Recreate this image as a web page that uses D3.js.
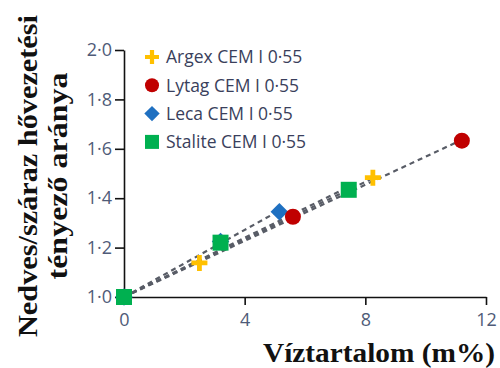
<!DOCTYPE html>
<html>
<head>
<meta charset="utf-8">
<script src="https://cdn.jsdelivr.net/npm/d3@7"></script>
<style>
  body { margin: 0; background: #fff; }
  svg { display: block; }
  .tick text { font-family: "Open Sans", sans-serif; font-size: 18px; fill: #4f5b78; }
  .axis-title { font-family: "Liberation Serif", "Times New Roman", serif; font-weight: bold; fill: #111; }
  .legend text { font-family: "Open Sans", sans-serif; font-size: 17.5px; fill: #3a3f5c; }
</style>
</head>
<body>
<svg id="chart"></svg>
<script>
// series and values
const seriesNames = ["Argex CEM I 0·55", "Lytag CEM I 0·55", "Leca CEM I 0·55", "Stalite CEM I 0·55"];
const seriesColors = ["#ffc000", "#c00000", "#1f70c1", "#00b050"];
const seriesShapes = ["plus", "circle", "diamond", "square"];

const argexX = [0, 2.5, 8.25];
const argexY = [1.0, 1.138, 1.483];
const lytagX = [0, 5.6, 11.2];
const lytagY = [1.0, 1.325, 1.633];
const lecaX = [0, 3.2, 5.15];
const lecaY = [1.0, 1.225, 1.345];
const staliteX = [0, 3.2, 7.45];
const staliteY = [1.0, 1.22, 1.434];

const xTicks = [0, 4, 8, 12];
const yTicks = [1.0, 1.2, 1.4, 1.6, 1.8, 2.0];

const xTitle = "Víztartalom (m%)";
const yTitleLines = ["Nedves/száraz hővezetési", "tényező aránya"];

const width = 500, height = 368;
const plotLeft = 124, plotRight = 486, plotTop = 50, plotBottom = 297;

const svg = d3.select("#chart").attr("width", width).attr("height", height);

const x = d3.scaleLinear().domain([0, 12]).range([plotLeft, plotRight]);
const y = d3.scaleLinear().domain([1, 2]).range([plotBottom, plotTop]);

const fmt = v => d3.format(".1f")(v).replace(".", "·");

svg.append("g")
  .attr("transform", `translate(${plotLeft},0)`)
  .call(d3.axisLeft(y).tickValues(yTicks).tickFormat(fmt).tickSize(9).tickSizeOuter(0).tickPadding(3))
  .call(g => g.selectAll("path,line").attr("stroke", "#111").attr("stroke-width", 1.6));

svg.append("g")
  .attr("transform", `translate(0,${plotBottom})`)
  .call(d3.axisBottom(x).tickValues(xTicks).tickFormat(d3.format("d")).tickSize(8).tickSizeOuter(0).tickPadding(8))
  .call(g => g.selectAll("path,line").attr("stroke", "#111").attr("stroke-width", 1.6));

// titles
svg.append("text").attr("class", "axis-title")
  .attr("x", 379).attr("y", 362)
  .attr("text-anchor", "middle")
  .attr("font-size", 27)
  .attr("textLength", 232)
  .attr("lengthAdjust", "spacingAndGlyphs")
  .text(xTitle);

const yTitleLengths = [322, 207];
const yt = svg.append("text").attr("class", "axis-title")
  .attr("transform", "translate(0,176) rotate(-90)")
  .attr("text-anchor", "middle")
  .attr("font-size", 27);
yt.selectAll("tspan").data(yTitleLines).join("tspan")
  .attr("x", 0)
  .attr("y", (d, i) => 37 + i * 30)
  .attr("textLength", (d, i) => yTitleLengths[i])
  .attr("lengthAdjust", "spacingAndGlyphs")
  .text(d => d);

const series = [
  { xs: argexX, ys: argexY },
  { xs: lytagX, ys: lytagY },
  { xs: lecaX, ys: lecaY },
  { xs: staliteX, ys: staliteY }
].map((s, i) => ({
  name: seriesNames[i], color: seriesColors[i], shape: seriesShapes[i],
  points: s.xs.map((v, j) => ({ x: v, y: s.ys[j] }))
}));

// trend lines through (0,1), least squares slope
const lines = svg.append("g");
series.forEach(s => {
  const k = d3.sum(s.points, p => p.x * (p.y - 1)) / d3.sum(s.points, p => p.x * p.x);
  const xMax = d3.max(s.points, p => p.x);
  lines.append("line")
    .attr("x1", x(0)).attr("y1", y(1))
    .attr("x2", x(xMax)).attr("y2", y(1 + k * xMax))
    .attr("stroke", "#585c66")
    .attr("stroke-width", 2.2)
    .attr("stroke-dasharray", "5,4");
});

function marker(g, shape, color, size) {
  const h = size / 2;
  if (shape === "circle") {
    g.append("circle").attr("r", h).attr("fill", color);
  } else if (shape === "square") {
    g.append("rect").attr("x", -h).attr("y", -h).attr("width", size).attr("height", size).attr("fill", color);
  } else if (shape === "diamond") {
    g.append("path").attr("d", `M0,${-h * 1.1}L${h * 1.1},0L0,${h * 1.1}L${-h * 1.1},0Z`).attr("fill", color);
  } else {
    const t = size * 0.3;
    g.append("path")
      .attr("d", `M${-t/2},${-h}H${t/2}V${-t/2}H${h}V${t/2}H${t/2}V${h}H${-t/2}V${t/2}H${-h}V${-t/2}H${-t/2}Z`)
      .attr("fill", color);
  }
}

// draw order so overlaps look like the picture
const drawOrder = [0, 2, 1, 3];
drawOrder.forEach(i => {
  const s = series[i];
  s.points.forEach(p => {
    const g = svg.append("g").attr("transform", `translate(${x(p.x)},${y(p.y)})`);
    marker(g, s.shape, s.color, 16);
  });
});

// legend
const legend = svg.append("g").attr("class", "legend");
series.forEach((s, i) => {
  const row = legend.append("g").attr("transform", `translate(152,${57 + i * 28.3})`);
  marker(row, s.shape, s.color, 14);
  row.append("text").attr("x", 14).attr("dy", "0.36em").text(s.name);
});
</script>
</body>
</html>
